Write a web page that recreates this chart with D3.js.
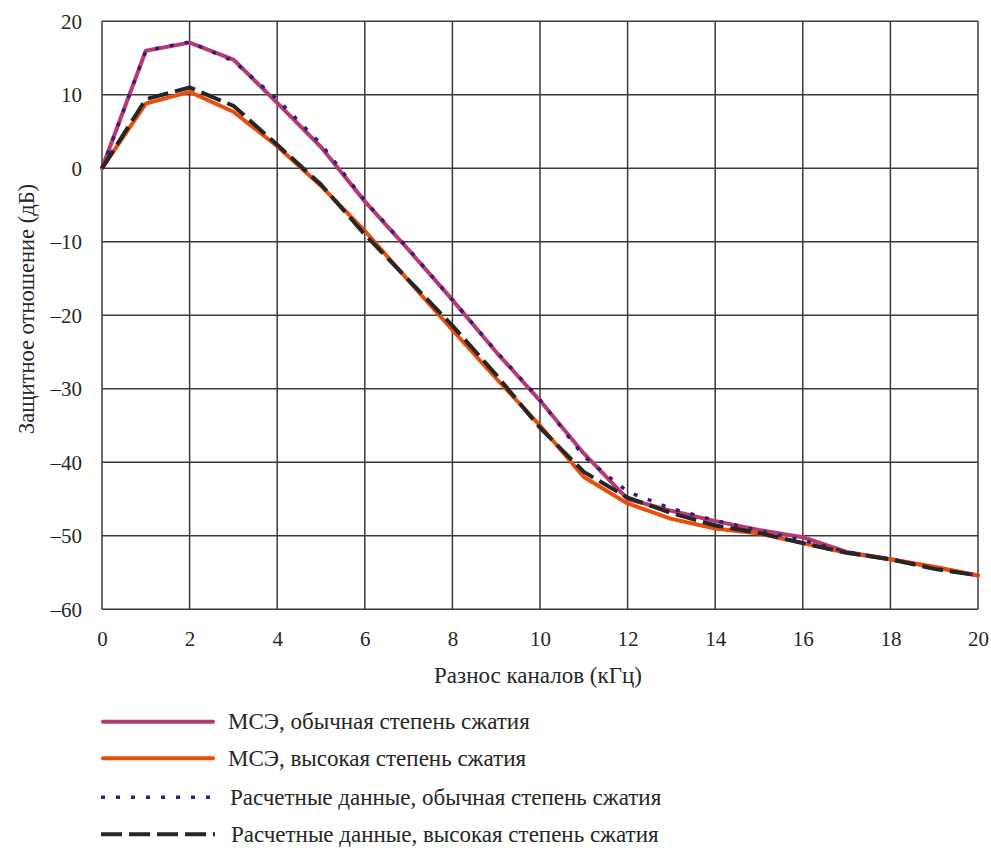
<!DOCTYPE html>
<html>
<head>
<meta charset="utf-8">
<script src="https://cdn.jsdelivr.net/npm/d3@7"></script>
<style>
  html, body { margin: 0; padding: 0; background: #fff; }
  svg { display: block; }
</style>
</head>
<body>
<svg id="chart" width="991" height="848"></svg>
<script>
// Channel spacing, kHz
const spacing = [0, 1, 2, 3, 4, 5, 6, 7, 8, 9, 10, 11, 12, 13, 14, 15, 16, 17, 18, 19, 20];

// Protection ratio, dB
const mseNormal = [0, 16.0, 17.1, 14.8, 8.9, 2.9, -4.5, -11.1, -17.9, -25.0, -31.6, -38.8, -45.0, -46.6, -48.0, -49.2, -50.2, -52.2, -53.2, -54.3, -55.4];
const mseHigh   = [0, 8.8, 10.4, 7.7, 3.0, -2.4, -8.5, -15.3, -22.0, -28.6, -35.0, -42.0, -45.6, -47.7, -49.0, -49.7, -51.0, -52.3, -53.2, -54.2, -55.4];
const calcNormal = [0, 16.0, 17.2, 14.6, 9.4, 3.3, -4.4, -11.0, -17.9, -24.9, -31.5, -39.2, -44.0, -46.3, -47.9, -49.3, -50.6, -52.2, -53.2, -54.4, -55.4];
const calcHigh   = [0, 9.4, 11.0, 8.5, 3.2, -2.2, -9.0, -15.2, -21.4, -28.1, -35.3, -41.3, -44.8, -46.9, -48.6, -49.6, -51.0, -52.3, -53.2, -54.5, -55.4];

const xTicks = [0, 2, 4, 6, 8, 10, 12, 14, 16, 18, 20];
const yTicks = [20, 10, 0, -10, -20, -30, -40, -50, -60];

const xTitle = "Разнос каналов (кГц)";
const yTitle = "Защитное отношение (дБ)";
const seriesNames = [
  "МСЭ, обычная степень сжатия",
  "МСЭ, высокая степень сжатия",
  "Расчетные данные, обычная степень сжатия",
  "Расчетные данные, высокая степень сжатия"
];

const FONT = "'Liberation Serif', 'Times New Roman', serif";
const TEXT_COLOR = "#262626";

const svg = d3.select("#chart");
const plotLeft = 102, plotRight = 978, plotTop = 21.3, plotBottom = 609.3;

const x = d3.scaleLinear().domain([0, 20]).range([plotLeft, plotRight]);
const y = d3.scaleLinear().domain([-60, 20]).range([plotBottom, plotTop]);

const gridColor = "#3a3a3a";
const fmt = d => d < 0 ? "\u2013" + Math.abs(d) : String(d);

// Grid lines
svg.append("g").selectAll("line").data(xTicks).join("line")
  .attr("x1", d => x(d)).attr("x2", d => x(d))
  .attr("y1", plotTop).attr("y2", plotBottom)
  .attr("stroke", gridColor).attr("stroke-width", 1.5);
svg.append("g").selectAll("line").data(yTicks).join("line")
  .attr("x1", plotLeft).attr("x2", plotRight)
  .attr("y1", d => y(d)).attr("y2", d => y(d))
  .attr("stroke", gridColor).attr("stroke-width", 1.5);

// Axes (labels only; the grid provides the frame)
const xAxis = svg.append("g").attr("transform", `translate(0,${plotBottom})`)
  .call(d3.axisBottom(x).tickValues(xTicks).tickFormat(fmt).tickSize(0).tickPadding(22));
const yAxis = svg.append("g").attr("transform", `translate(${plotLeft},0)`)
  .call(d3.axisLeft(y).tickValues(yTicks).tickFormat(fmt).tickSize(0).tickPadding(20));
[xAxis, yAxis].forEach(a => {
  a.select(".domain").remove();
  a.selectAll("text").style("font-family", FONT)
    .style("font-size", "21px").attr("fill", TEXT_COLOR);
});

// Axis titles
svg.append("text").attr("x", 538).attr("y", 683)
  .attr("text-anchor", "middle")
  .style("font-family", FONT).style("font-size", "23px").attr("fill", TEXT_COLOR)
  .text(xTitle);
svg.append("text")
  .attr("transform", `translate(34,309) rotate(-90)`)
  .attr("text-anchor", "middle")
  .style("font-family", FONT).style("font-size", "22.5px").attr("fill", TEXT_COLOR)
  .text(yTitle);

// Series
const styles = [
  { data: mseNormal, color: "#b83a73", width: 4, dash: null, cap: "round" },
  { data: mseHigh, color: "#e84e0c", width: 4, dash: null, cap: "round" },
  { data: calcNormal, color: "#3b1a7a", width: 3.5, dash: "4 11", cap: "butt" },
  { data: calcHigh, color: "#262626", width: 4, dash: "21 7", cap: "butt" }
];

const line = d3.line().x((d, i) => x(spacing[i])).y(d => y(d));

const plot = svg.append("g");
styles.forEach(s => {
  plot.append("path")
    .attr("d", line(s.data))
    .attr("fill", "none")
    .attr("stroke", s.color)
    .attr("stroke-width", s.width)
    .attr("stroke-linejoin", "round")
    .attr("stroke-linecap", s.cap)
    .attr("stroke-dasharray", s.dash);
});

// Legend
const legendY = [721.7, 758.3, 797.3, 834.3];
const legendTextX = [228, 228, 230, 231];
const legend = svg.append("g");
styles.forEach((s, i) => {
  legend.append("line")
    .attr("x1", s.cap === "round" ? 103 : 101).attr("x2", s.cap === "round" ? 213 : 215)
    .attr("y1", legendY[i]).attr("y2", legendY[i])
    .attr("stroke", s.color).attr("stroke-width", s.width)
    .attr("stroke-linecap", s.cap)
    .attr("stroke-dasharray", s.dash);
  legend.append("text")
    .attr("x", legendTextX[i])
    .attr("y", legendY[i] + 7.5)
    .style("font-family", FONT).style("font-size", "23px").attr("fill", TEXT_COLOR)
    .text(seriesNames[i]);
});
</script>
</body>
</html>
